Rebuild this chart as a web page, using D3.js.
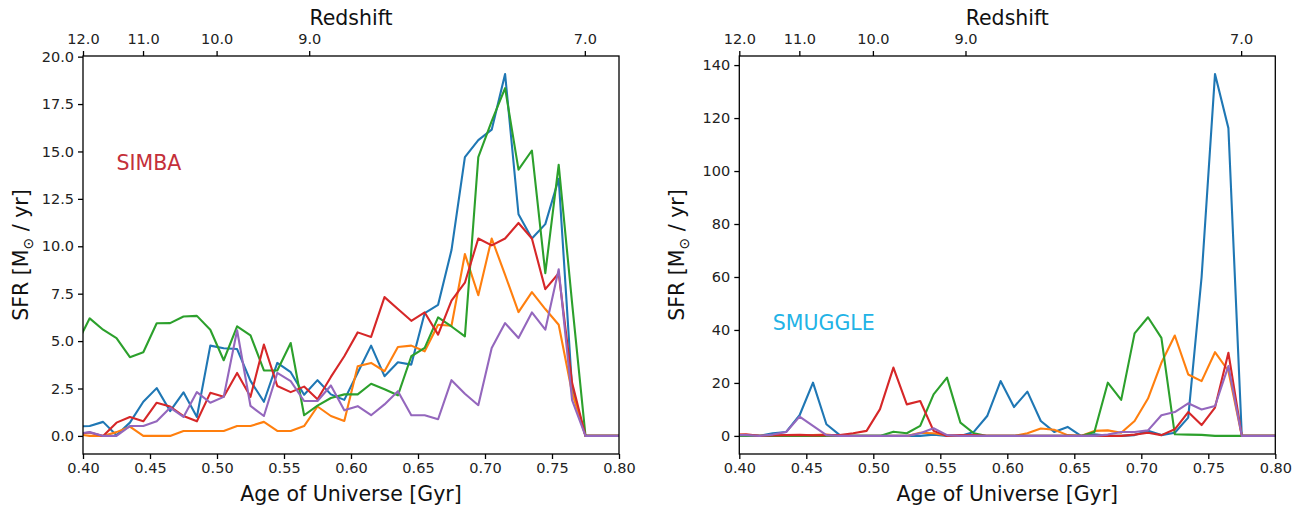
<!DOCTYPE html>
<html>
<head>
<meta charset="utf-8">
<script src="https://cdn.jsdelivr.net/npm/d3@7"></script>
<style>
  html, body { margin: 0; padding: 0; background: #fff; }
  svg { display: block; font-family: "DejaVu Sans", sans-serif; }
  .axis path, .axis line { stroke: #000; stroke-width: 1.3px; }
  .axis text { fill: #222; font-size: 14.5px; font-family: "DejaVu Sans", sans-serif; }
</style>
</head>
<body>
<svg id="chart" width="1312" height="512"></svg>
<script>
// ---- data ----
const ages = [0.395,0.405,0.415,0.425,0.435,0.445,0.455,0.465,0.475,0.485,0.495,0.505,0.515,0.525,0.535,0.545,0.555,0.565,0.575,0.585,0.595,0.605,0.615,0.625,0.635,0.645,0.655,0.665,0.675,0.685,0.695,0.705,0.715,0.725,0.735,0.745,0.755,0.765,0.775,0.785,0.795,0.805];

const simbaBlue   = [0.5,0.52,0.74,0.03,0.7,1.8,2.52,1.31,2.3,1.0,4.76,4.62,4.58,2.9,1.8,3.85,3.36,2.17,2.94,2.19,1.9,3.33,4.76,3.15,3.88,3.76,6.48,6.91,9.8,14.7,15.6,16.15,19.08,11.69,10.41,11.17,13.56,2.5,0,0,0,0];
const simbaOrange = [0.1,0,0,0.2,0.49,0,0,0,0.26,0.26,0.26,0.26,0.52,0.52,0.74,0.26,0.26,0.52,1.55,1.05,0.79,3.67,3.85,3.41,4.69,4.76,4.46,5.86,5.81,9.59,7.42,10.41,8.49,6.53,7.58,6.69,5.86,2.28,0,0,0,0];
const simbaGreen  = [4.8,6.2,5.6,5.16,4.15,4.41,5.94,5.95,6.3,6.33,5.6,3.99,5.78,5.3,3.45,3.45,4.9,1.09,1.6,2.0,2.19,2.19,2.75,2.46,2.14,4.2,4.64,6.25,5.77,5.25,14.7,16.6,18.34,14.04,15.05,8.58,14.3,7.0,0,0,0,0];
const simbaRed    = [0.1,0.18,0,0.7,1.0,0.77,1.75,1.55,1.05,0.77,2.27,2.06,3.32,2.06,4.82,2.63,2.31,2.6,1.93,3.11,4.2,5.46,5.22,7.32,6.69,6.07,6.51,5.34,7.14,8.08,10.41,10.05,10.41,11.23,10.41,7.74,8.58,2.8,0,0,0,0];
const simbaPurple = [0.1,0.2,0,0,0.52,0.52,0.77,1.49,1.0,2.31,1.75,2.06,5.57,1.58,1.05,3.32,2.89,1.84,1.84,2.66,1.35,1.57,1.09,1.66,2.36,1.09,1.09,0.88,2.94,2.22,1.62,4.64,5.95,5.16,6.51,5.6,8.79,1.89,0,0,0,0];

const smuggleBlue   = [0.3,0.3,0,1,1.5,7.8,20.1,4.4,0.3,0,0,0,0,0,0,0.5,0,0,1.5,7.5,20.7,10.9,16.7,5.65,1.5,3.4,0,0.6,0,0,0.3,1.9,0.3,1.2,6.9,60,136.6,116.2,0,0,0,0];
const smuggleOrange = [0.5,0.3,0,0,0,0,0.3,0.5,0,0,0,0,0,0,1.2,1.0,0.3,0,0,0,0,0,1.0,2.8,2.3,0.3,0,1.9,2.1,1.2,5.65,14.1,27.6,37.9,23.2,20.7,31.6,24.5,0,0,0,0];
const smuggleGreen  = [0,0,0,0,0,0,0,0,0,0,0,0,1.6,1.0,3.8,15.7,22,5.0,1.0,0,0,0,0,0,0,0,0,1.5,20.1,13.6,38.7,44.8,37,0.6,0.5,0.4,0,0,0,0,0,0];
const smuggleRed    = [0.5,0.6,0,0.2,0.3,0.4,0.2,0.3,0.3,1.0,1.9,10.1,25.8,11.9,13.2,1.9,0,0.3,0.3,0,0,0,0,0,0,0,0,0,0,0,0.5,1.2,0.3,2.5,9,4.1,10.7,31.4,0,0,0,0];
const smugglePurple = [0.3,0.3,0,0.5,1.5,7.3,3.8,0.3,0,0,0,0,0,0,1.0,2.9,0.3,0,0,0,0,0,0,0,0,0,0,0,0.5,1.5,1.5,2.1,7.8,9,12.3,10,11.3,26.4,0,0,0,0];

const seriesColors = ["#1f77b4","#ff7f0e","#2ca02c","#d62728","#9467bd"];

const ageTicks = [0.40,0.45,0.50,0.55,0.60,0.65,0.70,0.75,0.80];
const simbaYTicks = [0,2.5,5,7.5,10,12.5,15,17.5,20];
const smuggleYTicks = [0,20,40,60,80,100,120,140];
const redshiftLabels = ["12.0","11.0","10.0","9.0","7.0"];
const redshiftAges = [0.400,0.4448,0.4997,0.5688,0.7745];

const panels = [
  { name: "SIMBA", nameColor: "#c4303a", nameAt: [0.425, 14], series: [simbaBlue,simbaOrange,simbaGreen,simbaRed,simbaPurple],
    yDomain: [-0.954, 20.034], yTicks: simbaYTicks, yFmt: d3.format(".1f"), left: 83 },
  { name: "SMUGGLE", nameColor: "#22b3e6", nameAt: [0.425, 40], series: [smuggleBlue,smuggleOrange,smuggleGreen,smuggleRed,smugglePurple],
    yDomain: [-6.83, 143.43], yTicks: smuggleYTicks, yFmt: d3.format("d"), left: 739.3 }
];

// ---- drawing ----
const svg = d3.select("#chart");
const PW = 536, PTOP = 56, PBOT = 454;

panels.forEach((p, pi) => {
  const x = d3.scaleLinear().domain([0.40, 0.80]).range([p.left, p.left + PW]);
  const y = d3.scaleLinear().domain(p.yDomain).range([PBOT, PTOP]);
  const g = svg.append("g");

  const clipId = "clip" + pi;
  svg.append("clipPath").attr("id", clipId).append("rect")
    .attr("x", p.left).attr("y", PTOP).attr("width", PW).attr("height", PBOT - PTOP);

  const line = d3.line().x((d, i) => x(ages[i])).y(d => y(d));
  p.series.forEach((s, si) => {
    g.append("path").datum(s)
      .attr("clip-path", `url(#${clipId})`)
      .attr("fill", "none")
      .attr("stroke", seriesColors[si])
      .attr("stroke-width", 2.1)
      .attr("stroke-linejoin", "round")
      .attr("d", line);
  });

  // frame
  g.append("rect").attr("x", p.left).attr("y", PTOP).attr("width", PW).attr("height", PBOT - PTOP)
    .attr("fill", "none").attr("stroke", "#000").attr("stroke-width", 1.3);

  // bottom axis
  g.append("g").attr("class", "axis").attr("transform", `translate(0,${PBOT})`)
    .call(d3.axisBottom(x).tickValues(ageTicks).tickFormat(d3.format(".2f")).tickSize(5).tickPadding(4))
    .select(".domain").remove();

  // left axis
  g.append("g").attr("class", "axis").attr("transform", `translate(${p.left},0)`)
    .call(d3.axisLeft(y).tickValues(p.yTicks).tickFormat(p.yFmt).tickSize(5).tickPadding(4))
    .select(".domain").remove();

  // top axis (redshift)
  const topAx = g.append("g").attr("class", "axis").attr("transform", `translate(0,${PTOP})`)
    .call(d3.axisTop(x).tickValues(redshiftAges).tickFormat((d, i) => redshiftLabels[i]).tickSize(5).tickPadding(4));
  topAx.select(".domain").remove();
  topAx.selectAll("text").attr("dy", "-0.22em");

  // axis titles
  g.append("text").attr("x", p.left + PW / 2).attr("y", 25).attr("text-anchor", "middle")
    .attr("font-size", "20.5px").attr("fill", "#111").text("Redshift");
  g.append("text").attr("x", p.left + PW / 2).attr("y", 501).attr("text-anchor", "middle")
    .attr("font-size", "20.5px").attr("fill", "#111").text("Age of Universe [Gyr]");

  const yl = g.append("text")
    .attr("transform", `translate(${p.left - 55},${(PTOP + PBOT) / 2}) rotate(-90)`)
    .attr("text-anchor", "middle").attr("font-size", "20.5px").attr("fill", "#111");
  yl.append("tspan").text("SFR [M");
  yl.append("tspan").attr("font-size", "14px").attr("dy", "5").text("\u2299");
  yl.append("tspan").attr("dy", "-5").text(" / yr]");

  // label
  g.append("text").attr("x", x(p.nameAt[0])).attr("y", y(p.nameAt[1]))
    .attr("font-size", "20.5px").attr("fill", p.nameColor).text(p.name);
});
</script>
</body>
</html>
